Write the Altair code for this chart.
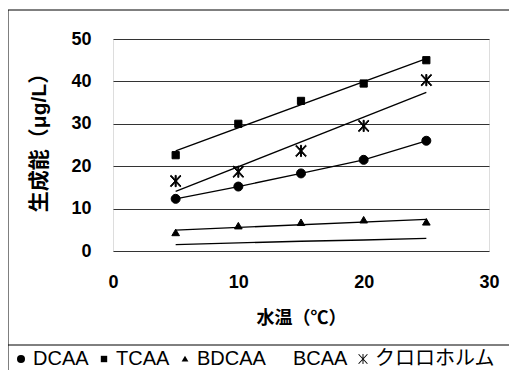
import altair as alt
import pandas as pd

temps = [5, 10, 15, 20, 25]
series_names = ["DCAA", "TCAA", "BDCAA", "BCAA", "クロロホルム"]
dcaa = [12.3, 15.2, 18.3, 21.5, 26.0]
tcaa = [22.6, 30.0, 35.4, 39.5, 45.0]
bdcaa = [4.3, 5.9, 6.7, 7.3, 6.8]
bcaa = [1.5, 1.9, 2.3, 2.6, 3.0]
chloro = [16.5, 18.7, 23.6, 29.5, 40.3]

values = {"DCAA": dcaa, "TCAA": tcaa, "BDCAA": bdcaa, "BCAA": bcaa, "クロロホルム": chloro}
rows = []
for s in series_names:
    for t, v in zip(temps, values[s]):
        rows.append({"temp": t, "value": v, "series": s})
df = pd.DataFrame(rows)

FONT = "Liberation Sans, Noto Sans CJK JP"

# asterisk drawn as filled thin bars so it also shows in the legend
ASTER = ("M-0.12,-1.25H0.12V1.25H-0.12Z"
         "M-1.19,-1.12L-1.01,-1.28L1.19,1.12L1.01,1.28Z"
         "M-1.01,1.28L-1.19,1.12L1.01,-1.28L1.19,-1.12Z")
shapes = [
    "circle",
    "M-0.8,-0.8H0.8V0.8H-0.8Z",
    "M0,-0.8L0.85,0.65L-0.85,0.65Z",
    "M0,0",
    ASTER,
]

xenc = alt.X(
    "temp:Q",
    scale=alt.Scale(domain=[0, 30], nice=False),
    axis=alt.Axis(
        values=[0, 10, 20, 30], grid=False, ticks=False, domain=False,
        labelFontSize=18, labelFontWeight="bold", labelFont=FONT, labelColor="black",
        labelPadding=22, labelFlush=False,
        title="水温（℃）", titleFont=FONT, titleFontSize=18, titleFontWeight="bold",
        titleColor="black", titleX=188, titleY=67, titleBaseline="middle",
    ),
)
yenc = alt.Y(
    "value:Q",
    scale=alt.Scale(domain=[0, 50], nice=False),
    axis=alt.Axis(
        values=[0, 10, 20, 30, 40, 50], grid=True, gridColor="#333", gridWidth=1,
        ticks=False, domain=False,
        labelFontSize=18, labelFontWeight="bold", labelFont=FONT, labelColor="black",
        labelPadding=22,
        title="生成能（μg/L）", titleFont=FONT, titleFontSize=21, titleFontWeight="bold",
        titleColor="black", titleX=-74, titleY=98, titleAngle=-90,
        titleBaseline="middle", titleAlign="center",
    ),
)

base = alt.Chart(df)

frame = alt.Chart(alt.Data(values=[{}]))
top_rule = frame.mark_rule(color="black", strokeWidth=1).encode(
    x=alt.value(-105), x2=alt.value(409), y=alt.value(-29))
left_rule = frame.mark_rule(color="black", strokeWidth=1).encode(
    x=alt.value(-105), y=alt.value(-29), y2=alt.value(335))
sep_rule = frame.mark_rule(color="black", strokeWidth=1).encode(
    x=alt.value(-105), x2=alt.value(409), y=alt.value(306))

line_plain = base.transform_filter(
    alt.FieldOneOfPredicate(field="series", oneOf=["DCAA", "BCAA"])
).mark_line(color="black", strokeWidth=1.3).encode(
    x=xenc, y=yenc, detail="series:N")

line_reg = base.transform_filter(
    alt.FieldOneOfPredicate(field="series", oneOf=["TCAA", "BDCAA", "クロロホルム"])
).transform_regression("temp", "value", groupby=["series"]).mark_line(
    color="black", strokeWidth=1.3).encode(x=xenc, y=yenc, detail="series:N")

points = base.mark_point(filled=True, fill="black", stroke="black", strokeWidth=1.0,
                         size=81, opacity=1).encode(
    x=xenc, y=yenc,
    shape=alt.Shape(
        "series:N",
        scale=alt.Scale(domain=series_names, range=shapes),
        sort=series_names,
        legend=alt.Legend(
            orient="none", legendX=-102, legendY=310, direction="horizontal",
            title=None, labelFont=FONT, labelFontSize=20, labelColor="black",
            labelOffset=2, columnPadding=5, padding=0, gridAlign="none",
            symbolSize=64, symbolFillColor="black", symbolStrokeColor="black",
            symbolStrokeWidth=1.0, symbolType="circle",
        ),
    ),
)

chart = alt.layer(top_rule, left_rule, sep_rule, line_plain, line_reg, points).properties(
    width=376, height=212,
    autosize=alt.AutoSizeParams(type="none"),
    padding={"left": 105, "top": 31, "right": 20, "bottom": 119},
).configure_view(stroke="black", strokeWidth=1).configure(background="white")

chart.save("out.html", embed_options={"renderer": "svg", "actions": False})
